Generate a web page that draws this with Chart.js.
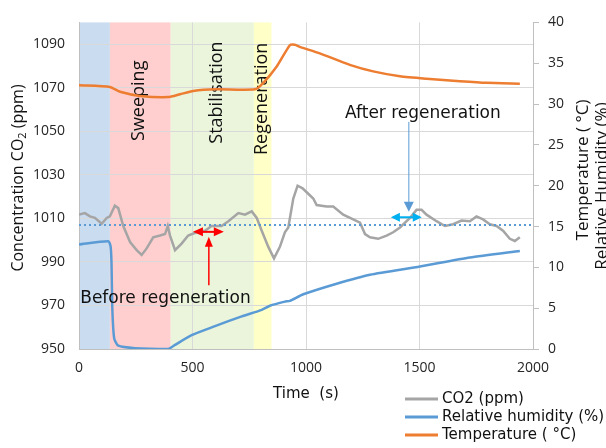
<!DOCTYPE html>
<html>
<head>
<meta charset="utf-8">
<script src="https://cdn.jsdelivr.net/npm/chart.js@4/dist/chart.umd.min.js"></script>
<style>
html,body{margin:0;padding:0;background:#fff;}
#wrap{width:606px;height:448px;position:relative;}
</style>
</head>
<body>
<div id="wrap"><canvas id="c" width="606" height="448"></canvas></div>
<script>
// ---------- data ----------
const co2Time = [0,26,48,70,100,122,136,158,173,195,225,254,276,298,327,357,379,391,401,423,452,481,518,555,584,628,658,702,731,761,783,805,834,859,885,907,922,944,963,985,1003,1032,1047,1091,1120,1164,1208,1238,1260,1282,1318,1355,1384,1414,1458,1487,1509,1531,1575,1612,1648,1685,1722,1751,1780,1810,1839,1868,1898,1920,1942];
const co2Values = [1011.7,1012.4,1010.9,1010.2,1007.5,1010.2,1010.9,1015.8,1014.7,1006.5,999.1,995.4,993.2,996.2,1001.3,1002.1,1002.8,1006.5,1002.1,995.4,998.4,1002.1,1003.6,1004.3,1006.5,1006.5,1008.7,1012.4,1011.7,1013.2,1010.2,1004.3,996.9,991.6,996.9,1003.6,1005.8,1019.1,1025.0,1023.8,1022.0,1019.1,1016.1,1015.4,1015.4,1011.7,1009.5,1008.0,1002.8,1001.3,1000.6,1002.1,1003.6,1005.8,1010.2,1013.9,1013.9,1011.7,1008.7,1006.5,1007.3,1009.0,1008.7,1010.9,1009.5,1007.3,1006.5,1004.3,1000.6,999.6,1001.3];

const rhTime = [0,129,139,143,147,155,173,247,393,423,496,599,717,805,841,907,929,988,1135,1282,1502,1722,1942];
const rhValues = [12.8,13.2,12.6,10.7,4.8,1.3,0.4,0.1,0.0,0.5,1.7,2.8,4.0,4.8,5.3,5.8,5.9,6.7,8.0,9.1,10.1,11.2,12.0];

const tempTime = [0,136,181,269,393,445,503,606,775,812,871,929,951,973,1061,1193,1296,1414,1531,1678,1795,1942];
const tempValues = [32.3,32.1,31.5,31.0,30.85,31.2,31.6,31.8,31.8,32.6,34.6,37.2,37.25,37.0,36.2,34.8,34.0,33.4,33.1,32.8,32.6,32.5];

const seriesLabels = ['CO2 (ppm)', 'Relative humidity (%)', 'Temperature ( \u00B0C)'];

const xTicks = [0,500,1000,1500,2000];
const co2Ticks = [950,970,990,1010,1030,1050,1070,1090];
const rightTicks = [0,5,10,15,20,25,30,35,40];

const phaseStart = [0,136,404,770];
const phaseEnd = [136,404,770,848];
const phaseNames = ['', 'Sweeping', 'Stabilisation', 'Regeneration'];
const phaseLabelTime = [0, 286, 630, 828];
const phaseLabelCO2 = [0, 1064.0, 1067.8, 1064.9];

const referenceCO2 = 1007;

// ---------- styles ----------
const phaseColors = ['#c9dcf0', '#ffcfcf', '#eaf5dc', '#ffffc8'];
const seriesColors = ['#a5a5a5', '#5b9bd5', '#ed7d31'];
const tickFont = {family: "'Open Sans', sans-serif", size: 14};
const tickColor = '#262626';

function toPts(xs, ys){ return xs.map((x,i)=>({x:x, y:ys[i]})); }

function arrowHead(ctx, xt, yt, ang, len, hw, color){
  ctx.save();
  ctx.translate(xt, yt); ctx.rotate(ang);
  ctx.beginPath(); ctx.moveTo(0,0); ctx.lineTo(-len,-hw); ctx.lineTo(-len,hw); ctx.closePath();
  ctx.fillStyle = color; ctx.fill();
  ctx.restore();
}
function arrow(ctx, x1, y1, x2, y2, o){
  const ang = Math.atan2(y2-y1, x2-x1), c = Math.cos(ang), s = Math.sin(ang);
  const k = o.len*0.8;
  ctx.save();
  ctx.strokeStyle = o.color; ctx.lineWidth = o.width;
  ctx.beginPath();
  ctx.moveTo(o.both ? x1 + c*k : x1, o.both ? y1 + s*k : y1);
  ctx.lineTo(x2 - c*k, y2 - s*k);
  ctx.stroke();
  ctx.restore();
  arrowHead(ctx, x2, y2, ang, o.len, o.hw, o.color);
  if (o.both) arrowHead(ctx, x1, y1, ang + Math.PI, o.len, o.hw, o.color);
}

const annot = {
  redH: {t1:502, t2:638, v:1003.8},
  redV: {t:572, v1:979.3, v2:1001.5},
  cyanH: {t1:1374, t2:1510, v:1010.5},
  blueV: {t:1453, v1:1054.3, v2:1013.0},
  beforeText: {t:381, v:971, text:'Before regeneration'},
  afterText: {t:1515, v:1056.1, text:'After regeneration'}
};

const chartPlugin = {
  id: 'custom',
  beforeDraw(chart){
    const {ctx, chartArea:{top,bottom}, scales:{x}} = chart;
    ctx.save();
    phaseStart.forEach((s,i)=>{
      const x0 = x.getPixelForValue(s), x1 = x.getPixelForValue(phaseEnd[i]);
      ctx.fillStyle = phaseColors[i];
      ctx.fillRect(x0, top, x1-x0, bottom-top);
    });
    ctx.restore();
  },
  beforeDatasetsDraw(chart){
    const {ctx, scales:{x,y}} = chart;
    ctx.save();
    ctx.font = "18px 'Open Sans', sans-serif";
    ctx.fillStyle = '#111';
    ctx.textAlign = 'center';
    ctx.textBaseline = 'alphabetic';
    phaseNames.forEach((n,i)=>{
      if(!n) return;
      ctx.save();
      ctx.translate(x.getPixelForValue(phaseLabelTime[i]), y.getPixelForValue(phaseLabelCO2[i]));
      ctx.rotate(-Math.PI/2);
      ctx.fillText(n, 0, 0);
      ctx.restore();
    });
    ctx.restore();
  },
  afterDatasetsDraw(chart){
    const {ctx, chartArea:{left,right}, scales:{x,y}} = chart;
    // dotted reference line
    ctx.save();
    ctx.strokeStyle = '#5b9bd5'; ctx.lineWidth = 2; ctx.setLineDash([2,3]);
    const yr = y.getPixelForValue(referenceCO2);
    ctx.beginPath(); ctx.moveTo(left, yr); ctx.lineTo(right, yr); ctx.stroke();
    ctx.restore();
    // arrows
    const a = annot;
    arrow(ctx, x.getPixelForValue(a.redH.t1), y.getPixelForValue(a.redH.v), x.getPixelForValue(a.redH.t2), y.getPixelForValue(a.redH.v), {color:'#ff0000', width:2, len:10, hw:4.5, both:true});
    arrow(ctx, x.getPixelForValue(a.redV.t), y.getPixelForValue(a.redV.v1), x.getPixelForValue(a.redV.t), y.getPixelForValue(a.redV.v2), {color:'#ff0000', width:1.5, len:10, hw:4, both:false});
    arrow(ctx, x.getPixelForValue(a.cyanH.t1), y.getPixelForValue(a.cyanH.v), x.getPixelForValue(a.cyanH.t2), y.getPixelForValue(a.cyanH.v), {color:'#00b0f0', width:2, len:9, hw:4.5, both:true});
    arrow(ctx, x.getPixelForValue(a.blueV.t), y.getPixelForValue(a.blueV.v1), x.getPixelForValue(a.blueV.t), y.getPixelForValue(a.blueV.v2), {color:'#5b9bd5', width:1, len:10, hw:5, both:false});
    // texts
    ctx.save();
    ctx.font = "17px 'DejaVu Sans', sans-serif";
    ctx.fillStyle = '#111';
    ctx.textAlign = 'center'; ctx.textBaseline = 'alphabetic';
    ctx.fillText(a.beforeText.text, x.getPixelForValue(a.beforeText.t), y.getPixelForValue(a.beforeText.v));
    ctx.fillText(a.afterText.text, x.getPixelForValue(a.afterText.t), y.getPixelForValue(a.afterText.v));
    ctx.restore();
  },
  afterDraw(chart){
    const {ctx, chartArea:{left,right,top,bottom}} = chart;
    ctx.save();
    ctx.fillStyle = '#111';
    // x title
    ctx.font = "15px 'DejaVu Sans', sans-serif";
    ctx.textAlign = 'center'; ctx.textBaseline = 'alphabetic';
    ctx.fillText('Time  (s)', (left+right)/2, 398);
    // left title with subscript
    ctx.save();
    ctx.translate(23, 178);
    ctx.rotate(-Math.PI/2);
    const f1 = "16px 'Open Sans', sans-serif", f2 = "11px 'Open Sans', sans-serif";
    const p1 = 'Concentration CO', p2 = '2', p3 = ' (ppm)';
    ctx.font = f1; const w1 = ctx.measureText(p1).width, w3 = ctx.measureText(p3).width;
    ctx.font = f2; const w2 = ctx.measureText(p2).width;
    let sx = -(w1+w2+w3)/2;
    ctx.textAlign = 'left';
    ctx.font = f1; ctx.fillText(p1, sx, 0); sx += w1;
    ctx.font = f2; ctx.fillText(p2, sx, 3); sx += w2;
    ctx.font = f1; ctx.fillText(p3, sx, 0);
    ctx.restore();
    // right titles
    ctx.font = "17px 'Open Sans', sans-serif";
    ctx.textAlign = 'center';
    ctx.save(); ctx.translate(588, 170); ctx.rotate(-Math.PI/2); ctx.fillText('Temperature ( \u00B0C)', 0, 0); ctx.restore();
    ctx.save(); ctx.translate(607, 186); ctx.rotate(-Math.PI/2); ctx.fillText('Relative Humidity (%)', 0, 0); ctx.restore();
    // legend
    const legY = [399, 417, 435];
    ctx.font = "15px 'DejaVu Sans', sans-serif";
    ctx.textAlign = 'left'; ctx.textBaseline = 'middle';
    chart.data.datasets.forEach((ds,i)=>{
      ctx.strokeStyle = ds.borderColor; ctx.lineWidth = 3;
      ctx.beginPath(); ctx.moveTo(405, legY[i]); ctx.lineTo(438, legY[i]); ctx.stroke();
      ctx.fillStyle = '#111';
      ctx.fillText(ds.label, 442, legY[i]);
    });
    ctx.restore();
  }
};

const plainNum = v => String(v);

const chart = new Chart(document.getElementById('c'), {
  type: 'line',
  data: {
    datasets: [
      {label: seriesLabels[0], data: toPts(co2Time, co2Values), yAxisID: 'y', borderColor: seriesColors[0], borderWidth: 2.5, pointRadius: 0, tension: 0},
      {label: seriesLabels[1], data: toPts(rhTime, rhValues), yAxisID: 'y1', borderColor: seriesColors[1], borderWidth: 2.5, pointRadius: 0, tension: 0.2},
      {label: seriesLabels[2], data: toPts(tempTime, tempValues), yAxisID: 'y1', borderColor: seriesColors[2], borderWidth: 2.5, pointRadius: 0, tension: 0.2}
    ]
  },
  options: {
    responsive: false,
    animation: false,
    devicePixelRatio: 1,
    layout: {padding: {top: 11, left: 0, right: 0, bottom: 0}},
    plugins: {legend: {display: false}, tooltip: {enabled: false}},
    scales: {
      x: {
        type: 'linear', min: 0, max: 2000,
        afterBuildTicks: s => { s.ticks = xTicks.map(v => ({value: v})); },
        afterFit: s => { s.height = 99; },
        ticks: {font: tickFont, color: tickColor, padding: 11, maxRotation: 0, callback: plainNum},
        grid: {drawTicks: false, color: c => (c.tick && c.tick.value === 0) ? 'rgba(0,0,0,0)' : '#d9d9d9'},
        border: {color: '#bfbfbf', width: 1}
      },
      y: {
        type: 'linear', position: 'left', min: 950, max: 1100,
        afterBuildTicks: s => { s.ticks = co2Ticks.map(v => ({value: v})); },
        afterFit: s => { s.width = 79; },
        ticks: {font: tickFont, color: tickColor, padding: 14, callback: plainNum},
        grid: {drawTicks: false, color: c => (c.tick && c.tick.value === 950) ? 'rgba(0,0,0,0)' : '#d9d9d9'},
        border: {color: '#bfbfbf', width: 1}
      },
      y1: {
        type: 'linear', position: 'right', min: 0, max: 40,
        afterBuildTicks: s => { s.ticks = rightTicks.map(v => ({value: v})); },
        afterFit: s => { s.width = 73; },
        ticks: {font: tickFont, color: tickColor, padding: 9, callback: plainNum},
        grid: {drawOnChartArea: false, drawTicks: true, tickLength: 6, tickColor: '#bfbfbf'},
        border: {color: '#bfbfbf', width: 1}
      }
    }
  },
  plugins: [chartPlugin]
});
</script>
</body>
</html>
